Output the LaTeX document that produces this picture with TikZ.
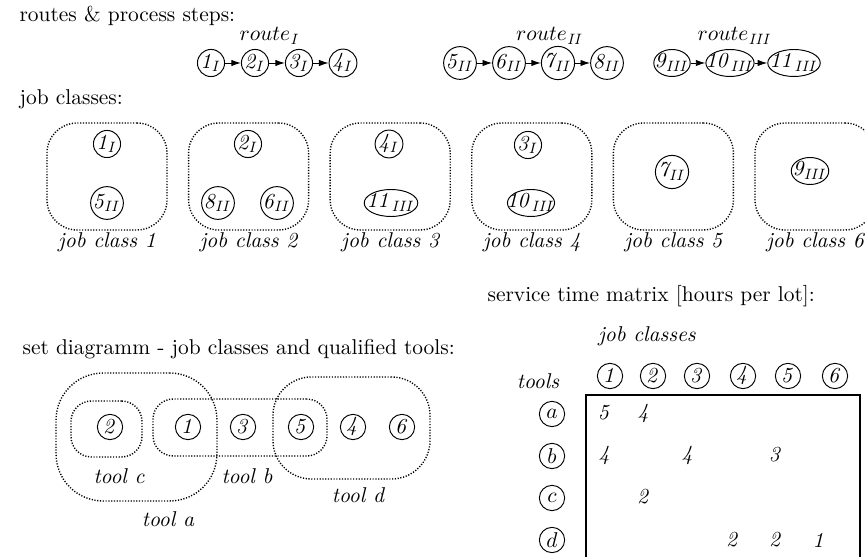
\documentclass[tikz,border=0pt]{standalone}
\usetikzlibrary{arrows.meta,shapes.geometric}
\newcommand{\zw}[1]{\makebox[0pt]{#1}}
\begin{document}
\begin{tikzpicture}[x=0.4666pt,y=-0.4666pt,
  stp/.style={circle, draw, line width=0.45pt, inner sep=0pt, minimum size=12.6pt},
  num/.style={circle, draw, line width=0.45pt, inner sep=0pt, minimum size=11.8pt},
  ell/.style={ellipse, draw, line width=0.45pt, inner sep=0pt, minimum height=12.6pt,
              text height=6pt, text depth=1.5pt, minimum width=#1},
  arr/.style={-{Latex[length=4.5pt,width=3pt]}, line width=0.45pt},
  dots/.style={draw, line width=0.65pt, dash pattern=on 0.55pt off 0.75pt},
  jc/.style={dots, rounded corners=14pt, minimum width=56pt, minimum height=49.9pt},
  tl/.style={anchor=base, font=\itshape},
  hd/.style={anchor=base west}]
\useasboundingbox (0,0) rectangle (865,557);

% ---------- routes & process steps ----------
\node[hd] (t1) at (12,22) {routes \& process steps:};

\node[anchor=base] (rI) at (270,41) {$route_{\mathit{I}}$};
\node[stp] (p1) at (211,63) {$\mathit{1}_{\mathit{I}}$};
\node[stp] (p2) at (255,63) {$\mathit{2}_{\mathit{I}}$};
\node[stp] (p3) at (299,63) {$\mathit{3}_{\mathit{I}}$};
\node[stp] (p4) at (343,63) {$\mathit{4}_{\mathit{I}}$};
\draw[arr] (p1) -- (p2);
\draw[arr] (p2) -- (p3);
\draw[arr] (p3) -- (p4);

\node[anchor=base] (rII) at (550,41) {$route_{\mathit{II}}$};
\node[stp] (p5) at (460,63) {$\mathit{5}_{\mathit{II}}$};
\node[stp] (p6) at (509,63) {$\mathit{6}_{\mathit{II}}$};
\node[stp] (p7) at (558,63) {$\mathit{7}_{\mathit{II}}$};
\node[stp] (p8) at (607,63) {$\mathit{8}_{\mathit{II}}$};
\draw[arr] (p5) -- (p6);
\draw[arr] (p6) -- (p7);
\draw[arr] (p7) -- (p8);

\node[anchor=base] (rIII) at (735,41) {$route_{\mathit{III}}$};
\node[ell=17pt] (p9) at (672,63) {\zw{$\mathit{9}_{\mathit{III}}$}};
\node[ell=22.5pt] (p10) at (730,63) {\zw{$\mathit{10}_{\mathit{III}}$}};
\node[ell=24.5pt] (p11) at (794,63) {\zw{$\mathit{11}_{\mathit{III}}$}};
\draw[arr] (p9) -- (p10);
\draw[arr] (p10) -- (p11);

% ---------- job classes ----------
\node[hd] (t2) at (12,105) {job classes:};

\node[jc] (jc1) at (107,176.5) {};
\node[jc] (jc2) at (248.6,176.5) {};
\node[jc] (jc3) at (390.2,176.5) {};
\node[jc] (jc4) at (531.8,176.5) {};
\node[jc] (jc5) at (673.4,176.5) {};
\node[jc] (jc6) at (815,176.5) {};

\node[tl] (l1) at (107,248) {job class 1};
\node[tl] (l2) at (248.6,248) {job class 2};
\node[tl] (l3) at (390.2,248) {job class 3};
\node[tl] (l4) at (531.8,248) {job class 4};
\node[tl] (l5) at (673.4,248) {job class 5};
\node[tl] (l6) at (815,248) {job class 6};

\node[stp] (j1a) at (107,144) {$\mathit{1}_{\mathit{I}}$};
\node[stp] (j1b) at (107,203) {$\mathit{5}_{\mathit{II}}$};
\node[stp] (j2a) at (248,144) {$\mathit{2}_{\mathit{I}}$};
\node[stp] (j2b) at (218,203) {$\mathit{8}_{\mathit{II}}$};
\node[stp] (j2c) at (277,203) {$\mathit{6}_{\mathit{II}}$};
\node[stp] (j3a) at (389,144) {$\mathit{4}_{\mathit{I}}$};
\node[ell=25pt] (j3b) at (391,203) {\zw{$\mathit{11}_{\mathit{III}}$}};
\node[stp] (j4a) at (528,145) {$\mathit{3}_{\mathit{I}}$};
\node[ell=22pt] (j4b) at (531,203) {\zw{$\mathit{10}_{\mathit{III}}$}};
\node[stp] (j5a) at (672,172) {$\mathit{7}_{\mathit{II}}$};
\node[ell=17.5pt] (j6a) at (810,171) {\zw{$\mathit{9}_{\mathit{III}}$}};

% ---------- set diagram ----------
\node[hd] (t3) at (15,355) {set diagramm - job classes and qualified tools:};

\node[dots, rounded corners=22pt, minimum width=75.1pt, minimum height=59.7pt] (ta) at (136.5,437) {};
\node[dots, rounded corners=9.5pt, minimum width=33.1pt, minimum height=26.1pt] (tc) at (106.5,429) {};
\node[dots, rounded corners=9.5pt, minimum width=81.2pt, minimum height=26.6pt] (tb) at (240,427.5) {};
\node[dots, rounded corners=18pt, minimum width=73.3pt, minimum height=47.6pt] (td) at (351.5,428) {};

\node[num] (s2) at (110,427) {$\mathit{2}$};
\node[num] (s1) at (188,427) {$\mathit{1}$};
\node[num] (s3) at (243,427) {$\mathit{3}$};
\node[num] (s5) at (301,427) {$\mathit{5}$};
\node[num] (s4) at (353,427) {$\mathit{4}$};
\node[num] (s6) at (402,427) {$\mathit{6}$};

\node[tl] (lc) at (119,484) {tool c};
\node[tl] (lb) at (247,484) {tool b};
\node[tl] (ld) at (358,503) {tool d};
\node[tl] (la) at (168,527) {tool a};

% ---------- service time matrix ----------
\node[hd] (t4) at (480,302) {service time matrix [hours per lot]:};
\node[tl] (jh) at (647,342) {job classes};
\node[tl] (th) at (538,389) {tools};

\node[num] (c1) at (610,376) {$\mathit{1}$};
\node[num] (c2) at (653,376) {$\mathit{2}$};
\node[num] (c3) at (697,376) {$\mathit{3}$};
\node[num] (c4) at (743,376) {$\mathit{4}$};
\node[num] (c5) at (788,376) {$\mathit{5}$};
\node[num] (c6) at (835,376) {$\mathit{6}$};

\node[num] (ra) at (552,414) {$a$};
\node[num] (rb) at (552,456) {$b$};
\node[num] (rc) at (552,498) {$c$};
\node[num] (rd) at (552,540) {$d$};

\draw[line width=0.6pt] (586,557) -- (586,395) -- (860,395) -- (860,557);

\node (ma1) at (604,413) {\textit{5}};
\node (ma2) at (643,413) {\textit{4}};
\node (mb1) at (604,455) {\textit{4}};
\node (mb3) at (687,455) {\textit{4}};
\node (mb5) at (775,455) {\textit{3}};
\node (mc2) at (643,497) {\textit{2}};
\node (md4) at (732,540) {\textit{2}};
\node (md5) at (775,540) {\textit{2}};
\node (md6) at (818,540) {\textit{1}};
\end{tikzpicture}
\end{document}
